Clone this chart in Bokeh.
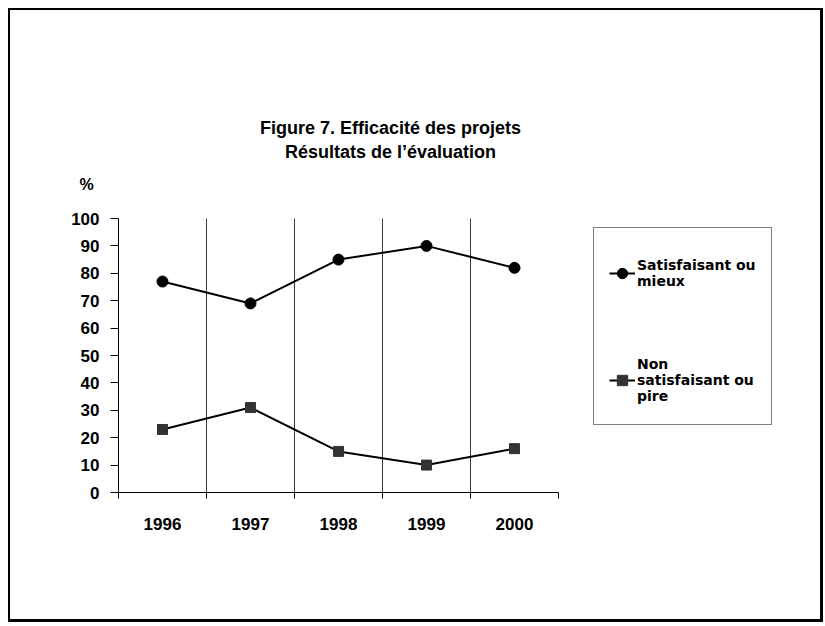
from bokeh.plotting import figure
from bokeh.layouts import column, row
from bokeh.models import Range1d, FixedTicker, Label, Legend, LegendItem
from bokeh.embed import file_html
from bokeh.resources import INLINE

# ---- data ----
years = [1996, 1997, 1998, 1999, 2000]
satisfaisant = [77, 69, 85, 90, 82]
non_satisfaisant = [23, 31, 15, 10, 16]
y_ticks = [0, 10, 20, 30, 40, 50, 60, 70, 80, 90, 100]
title_text = "Figure 7. Efficacité des projets\nRésultats de l’évaluation"
y_unit = "%"
legend_labels = ["Satisfaisant ou\nmieux", "Non\nsatisfaisant ou\npire"]

# category centres / boundaries on a numeric axis
x_pos = [i + 0.5 for i in range(len(years))]
boundaries = [i for i in range(len(years) + 1)]

FONT = "Liberation Sans"
W = 810
H_HEAD = 190
H_MAIN = 419
W_MAIN = 560
W_LEG = W - W_MAIN

SERIES1 = dict(line_color="black", line_width=2)
MARK1 = dict(marker="circle", size=11, fill_color="black", line_color="black")
SERIES2 = dict(line_color="black", line_width=2)
MARK2 = dict(marker="square", size=10, fill_color="#333333", line_color="#333333")


def blank_fig(width, height):
    f = figure(width=width, height=height,
               x_range=Range1d(0, width), y_range=Range1d(0, height),
               x_axis_type=None, y_axis_type=None,
               output_backend="svg", toolbar_location=None,
               min_border_left=0, min_border_right=0,
               min_border_top=0, min_border_bottom=0)
    f.outline_line_color = None
    f.background_fill_color = "white"
    f.border_fill_color = "white"
    f.grid.visible = False
    return f


# ---- header (title and unit) ----
head = blank_fig(W, H_HEAD)
head.add_layout(Label(x=380, y=61, text=title_text,
                      text_align="center", text_baseline="middle",
                      text_font=FONT, text_font_style="bold", text_font_size="18px",
                      text_line_height=1.2, text_color="black"))
head.add_layout(Label(x=76, y=16, text=y_unit,
                      text_align="center", text_baseline="middle",
                      text_font=FONT, text_font_style="bold", text_font_size="16px",
                      text_color="black"))

# ---- main chart ----
p = figure(width=W_MAIN, height=H_MAIN,
           x_range=Range1d(0, len(years)), y_range=Range1d(0, 100),
           output_backend="svg", toolbar_location=None,
           min_border_left=108, min_border_right=W_MAIN - 108 - 440,
           min_border_top=18, min_border_bottom=127)
p.background_fill_color = "white"
p.border_fill_color = "white"
p.outline_line_color = None

# x axis
p.xaxis.ticker = FixedTicker(ticks=x_pos, minor_ticks=boundaries)
p.xaxis.major_label_overrides = {x: str(y) for x, y in zip(x_pos, years)}
p.xaxis.major_tick_line_color = None
p.xaxis.major_tick_out = 0
p.xaxis.major_tick_in = 0
p.xaxis.minor_tick_out = 6
p.xaxis.minor_tick_in = 0
p.xaxis.minor_tick_line_color = "black"
p.xaxis.axis_line_color = "black"
p.xaxis.major_label_text_font = FONT
p.xaxis.major_label_text_font_style = "bold"
p.xaxis.major_label_text_font_size = "17px"
p.xaxis.major_label_text_color = "black"
p.xaxis.major_label_standoff = 19

# y axis
p.yaxis.ticker = FixedTicker(ticks=y_ticks, minor_ticks=[])
p.yaxis.major_tick_out = 8
p.yaxis.major_tick_in = 0
p.yaxis.major_tick_line_color = "black"
p.yaxis.minor_tick_line_color = None
p.yaxis.axis_line_color = "black"
p.yaxis.major_label_text_font = FONT
p.yaxis.major_label_text_font_style = "bold"
p.yaxis.major_label_text_font_size = "17px"
p.yaxis.major_label_text_color = "black"
p.yaxis.major_label_standoff = 11

# grids: vertical lines at category boundaries only
p.xgrid.grid_line_color = None
p.xgrid.minor_grid_line_color = "#3a3a3a"
p.xgrid.minor_grid_line_width = 1
p.ygrid.grid_line_color = None

# series
p.line(x_pos, satisfaisant, **SERIES1)
p.scatter(x_pos, satisfaisant, **MARK1)
p.line(x_pos, non_satisfaisant, **SERIES2)
p.scatter(x_pos, non_satisfaisant, **MARK2)

# ---- legend panel (hidden copies of the series supply the legend glyphs) ----
# (its frame is aligned with the main chart's frame inside the row)
lf = blank_fig(W_LEG, H_MAIN)
lr1 = lf.line(x_pos, satisfaisant, visible=False, **SERIES1)
lm1 = lf.scatter(x_pos, satisfaisant, visible=False, **MARK1)
lr2 = lf.line(x_pos, non_satisfaisant, visible=False, **SERIES2)
lm2 = lf.scatter(x_pos, non_satisfaisant, visible=False, **MARK2)
legend = Legend(items=[LegendItem(label=legend_labels[0], renderers=[lr1, lm1]),
                       LegendItem(label=legend_labels[1], renderers=[lr2, lm2])],
                location=(23, 67))
legend.border_line_color = "black"
legend.border_line_width = 1
legend.background_fill_color = "white"
legend.background_fill_alpha = 1
legend.padding = 15
legend.margin = 0
legend.spacing = 48
legend.glyph_width = 26
legend.glyph_height = 26
legend.label_standoff = 2
legend.label_height = 59
legend.label_text_font = "DejaVu Sans"
legend.label_text_font_style = "bold"
legend.label_text_font_size = "14px"
legend.label_text_line_height = 1.4
legend.label_text_color = "black"
lf.add_layout(legend, "center")

layout = column(head, row(p, lf, spacing=0), spacing=0)
layout.styles = {"margin-left": "8px", "margin-top": "8px",
                 "border-style": "solid", "border-color": "#000000",
                 "border-width": "2px 3px 3px 2px"}

open("out.html", "w").write(file_html(layout, INLINE))
